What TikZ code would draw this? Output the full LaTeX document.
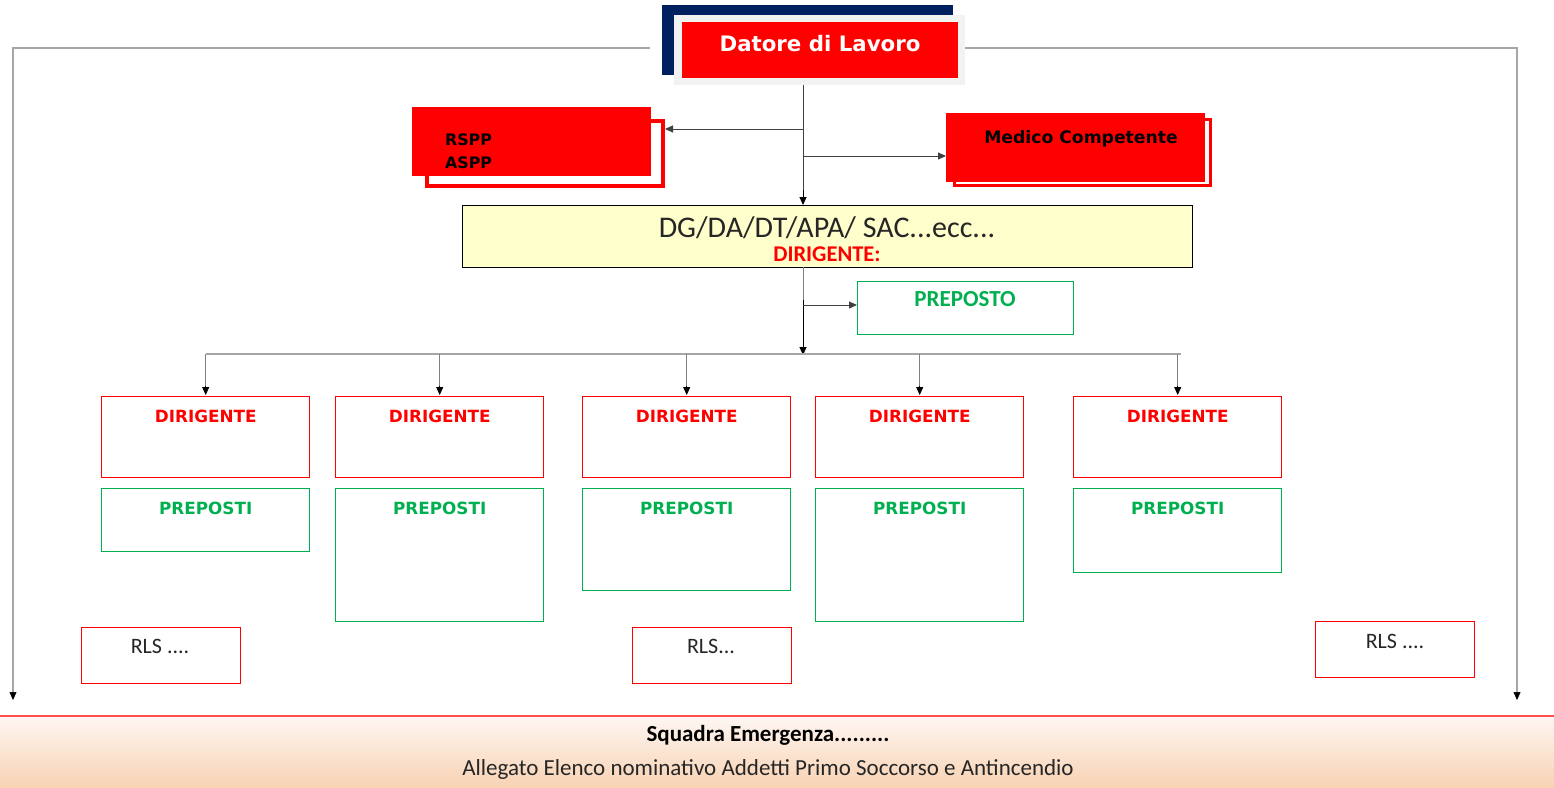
\documentclass[tikz,border=0pt]{standalone}
\usepackage{fontspec}
\setmainfont{Carlito}
\newfontfamily\dvs{DejaVu Sans}
\usetikzlibrary{arrows.meta}
\definecolor{myred}{HTML}{FF0000}
\definecolor{mynavy}{HTML}{002060}
\definecolor{mygreen}{HTML}{00B050}
\definecolor{myyellow}{HTML}{FFFFCC}
\definecolor{lightframe}{HTML}{F2F2F2}
\definecolor{lnGray}{HTML}{A6A6A6}
\definecolor{bandtop}{HTML}{FEF6F2}
\definecolor{bandbot}{HTML}{F8D3B4}
\definecolor{bandline}{HTML}{FF5050}
\definecolor{txtdark}{HTML}{262626}
\begin{document}
\begin{tikzpicture}[x=1pt,y=-1pt,
  >={Triangle[length=8pt,width=7pt]},
  box/.style={anchor=north west, inner sep=0pt, line width=1.4pt},
  redbox/.style={box, draw=myred},
  greenbox/.style={box, draw=mygreen},
  dtxt/.style={text=myred, font=\dvs\bfseries\fontsize{16.8}{18}\selectfont, inner sep=0pt},
  ptxt/.style={text=mygreen, font=\dvs\bfseries\fontsize{16.8}{18}\selectfont, inner sep=0pt},
  rtxt/.style={text=txtdark, font=\fontsize{22}{24}\selectfont, inner sep=0pt},
  gline/.style={draw=lnGray, line width=1.8pt},
  bline/.style={draw=black!75, line width=1pt},
]
\useasboundingbox (0,0) rectangle (1554,787);

% bottom band
\node[anchor=north west, minimum width=1554pt, minimum height=71pt, inner sep=0pt,
      top color=bandtop, bottom color=bandbot] (band) at (0,716) {};
\draw[draw=bandline, line width=1.6pt] (band.north west) -- (band.north east);
\node[font=\bfseries\fontsize{23}{25}\selectfont, text=black, inner sep=0pt] (sq) at (768,735) {Squadra Emergenza.........};
\node[font=\fontsize{23}{25}\selectfont, text=txtdark, inner sep=0pt] (all) at (768,769) {Allegato Elenco nominativo Addetti Primo Soccorso e Antincendio};

% Datore di Lavoro
\node[anchor=north west, fill=mynavy, minimum width=291pt, minimum height=70pt, inner sep=0pt] (dlb) at (662,5) {};
\node[anchor=north west, fill=lightframe, minimum width=291pt, minimum height=70pt, inner sep=0pt] (dlg) at (674,15) {};
\node[anchor=north west, fill=myred, minimum width=276pt, minimum height=56pt, inner sep=0pt] (dl) at (682,22) {};
\node[text=white, font=\dvs\bfseries\fontsize{21.3}{23}\selectfont, inner sep=0pt] (dlt) at (820,44) {Datore di Lavoro};

% side lines
\coordinate (la) at (650,48);
\coordinate (lb) at (13,700);
\coordinate (ra) at (965,48);
\coordinate (rb) at (1517,700);
\draw[gline] (la) -| ([yshift=6pt]lb);
\draw[gline] (ra) -| ([yshift=6pt]rb);
\draw[->, black, line width=0.6pt] ([yshift=8pt]lb) -- (lb);
\draw[->, black, line width=0.6pt] ([yshift=8pt]rb) -- (rb);

% RSPP / ASPP
\node[redbox, line width=4pt, fill=white, minimum width=236pt, minimum height=65pt] (rsppb) at (425,119) {};
\node[anchor=north west, fill=myred, minimum width=239pt, minimum height=69pt, inner sep=0pt] (rspp) at (412,107) {};
\node[anchor=west, font=\dvs\bfseries\fontsize{15.8}{17}\selectfont, inner sep=0pt] (rsppt) at (445,140) {RSPP};
\node[anchor=west, font=\dvs\bfseries\fontsize{15.8}{17}\selectfont, inner sep=0pt] (asppt) at (445,163) {ASPP};

% Medico Competente
\node[redbox, line width=3pt, fill=white, minimum width=256pt, minimum height=66pt] (medb) at (953,118) {};
\node[anchor=north west, fill=myred, minimum width=259pt, minimum height=69pt, inner sep=0pt] (med) at (946,113) {};
\node[font=\dvs\bfseries\fontsize{17.2}{19}\selectfont, inner sep=0pt] (medt) at (1081,139) {Medico Competente};

% DG box
\node[box, draw=black, line width=1pt, fill=myyellow, minimum width=730pt, minimum height=62pt] (dg) at (462,205) {};
\node[font=\fontsize{30}{32}\selectfont, text=txtdark, inner sep=0pt] (dgt) at (827,228) {DG/DA/DT/APA/ SAC...ecc...};
\node[font=\bfseries\fontsize{22.5}{24}\selectfont, text=myred, inner sep=0pt] (dgd) at (827,254) {DIRIGENTE:};

% connectors from Datore
\coordinate (s1) at (803,85);
\draw[bline] (s1) -- (803,196);
\draw[->, black, line width=1pt] (803,190) -- (s1 |- dg.north);
\draw[bline, ->] (803,129) -- (rsppb.east |- 0,129);
\draw[bline, ->] (803,156) -- (med.west |- 0,156);

% PREPOSTO
\node[greenbox, line width=1.1pt, minimum width=216pt, minimum height=53pt] (pp) at (857,281) {};
\node[font=\bfseries\fontsize{23}{25}\selectfont, text=mygreen, inner sep=0pt] (ppt) at (965,299) {PREPOSTO};
\coordinate (s2) at (803,267);
\coordinate (s3) at (803,354);
\draw[draw=gray, line width=1pt] (s2) -- (803,300);
\draw[->, black, line width=1pt] (803,300) -- ([yshift=-1pt]s3);
\draw[bline, ->] (803,305) -- (pp.west |- 0,305);

% bus
\draw[gline, line width=1.4pt] (206,354) -- (1181,354);

% Dirigenti
\foreach \i/\x in {1/101, 2/335, 3/582, 4/815, 5/1073} {
  \node[redbox, minimum width=208pt, minimum height=81pt] (d\i) at (\x,396) {};
  \node[dtxt] (d\i t) at ([yshift=-20pt]d\i.north) {DIRIGENTE};
}
\foreach \i in {1,...,5} {
  \draw[draw=gray, line width=1.2pt] (d\i.north |- s3) -- ([yshift=8pt]d\i.north);
  \draw[->, black, line width=0.8pt] ([yshift=10pt]d\i.north) -- ([yshift=1pt]d\i.north);
}

% Preposti
\node[greenbox, minimum width=208pt, minimum height=63pt] (p1) at (101,488) {};
\node[greenbox, minimum width=208pt, minimum height=133pt] (p2) at (335,488) {};
\node[greenbox, minimum width=208pt, minimum height=102pt] (p3) at (582,488) {};
\node[greenbox, minimum width=208pt, minimum height=133pt] (p4) at (815,488) {};
\node[greenbox, minimum width=208pt, minimum height=84pt] (p5) at (1073,488) {};
\foreach \i in {1,...,5} {
  \node[ptxt] (p\i t) at ([yshift=-20pt]p\i.north) {PREPOSTI};
}

% RLS
\node[redbox, line width=1.2pt, minimum width=159pt, minimum height=56pt] (r1) at (81,627) {};
\node[rtxt] (r1t) at (160,646) {RLS ....};
\node[redbox, line width=1.2pt, minimum width=159pt, minimum height=56pt] (r2) at (632,627) {};
\node[rtxt] (r2t) at (711,646) {RLS...};
\node[redbox, line width=1.2pt, minimum width=159pt, minimum height=56pt] (r3) at (1315,621) {};
\node[rtxt] (r3t) at (1395,641) {RLS ....};
\end{tikzpicture}
\end{document}
